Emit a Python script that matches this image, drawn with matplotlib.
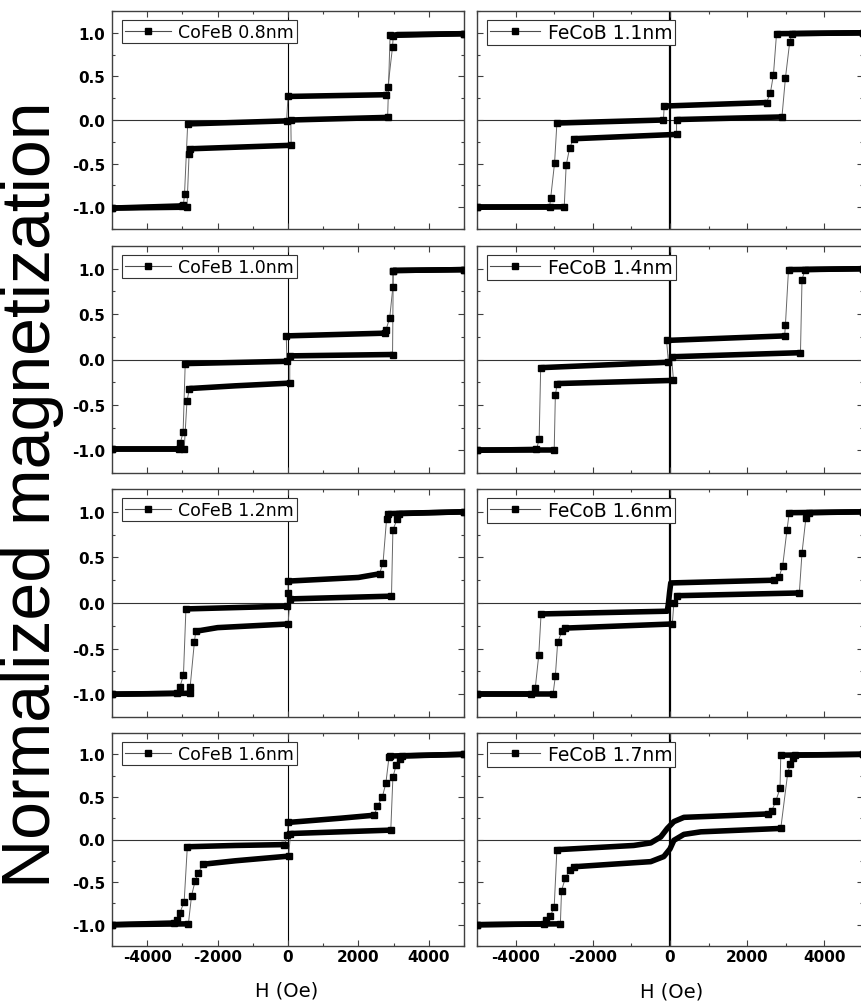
import matplotlib
matplotlib.use("Agg")
import matplotlib.pyplot as plt
from matplotlib.lines import Line2D
from matplotlib.ticker import MultipleLocator

plt.rcParams["font.family"] = ["DejaVu Sans"]
plt.rcParams["axes.unicode_minus"] = False

# Each branch: alternating [plateau, transition, plateau, ...] lists of (H in Oe, normalized M)
# plateaus are drawn as the dense band, transitions as single square markers

# CoFeB 0.8 nm
cofeb08_down = [
    [(5000, 0.99), (3100, 0.98), (2990, 0.96)],
    [(2970, 0.84), (2840, 0.38)],
    [(2790, 0.29), (0, 0.27)],
    [],
    [(-40, -0.01), (-2850, -0.045)],
    [(-2940, -0.85), (-2970, -0.97)],
    [(-3000, -0.985), (-5000, -1.01)],
]
cofeb08_up = [
    [(-5000, -1.01), (-2870, -1.0)],
    [(-2810, -0.39)],
    [(-2780, -0.33), (90, -0.29)],
    [],
    [(80, 0.0), (2830, 0.03)],
    [],
    [(2900, 0.97), (5000, 0.99)],
]

# CoFeB 1.0 nm
cofeb10_down = [
    [(5000, 0.99), (2980, 0.98)],
    [(2980, 0.80), (2890, 0.46), (2780, 0.32)],
    [(2760, 0.29), (-50, 0.26)],
    [],
    [(-30, -0.02), (-2920, -0.045)],
    [(-2980, -0.80), (-3060, -0.92)],
    [(-3100, -0.99), (-5000, -0.99)],
]
cofeb10_up = [
    [(-5000, -0.99), (-2950, -0.99)],
    [(-2870, -0.46)],
    [(-2800, -0.32), (-1500, -0.29), (50, -0.26)],
    [],
    [(50, 0.04), (2970, 0.055)],
    [],
    [(2990, 0.98), (5000, 0.99)],
]

# CoFeB 1.2 nm
cofeb12_down = [
    [(5000, 1.0), (2840, 0.98)],
    [(2800, 0.92), (2700, 0.44)],
    [(2600, 0.32), (2000, 0.28), (0, 0.24)],
    [(0, 0.11)],
    [(-20, -0.035), (-2900, -0.065)],
    [(-2970, -0.79), (-3070, -0.92)],
    [(-3150, -0.99), (-5000, -1.0)],
]
cofeb12_up = [
    [(-5000, -1.0), (-2780, -0.99)],
    [(-2780, -0.92), (-2660, -0.43)],
    [(-2620, -0.31), (-2000, -0.27), (0, -0.23)],
    [],
    [(60, 0.045), (2940, 0.075)],
    [(2980, 0.80), (3100, 0.92)],
    [(3150, 0.98), (5000, 1.0)],
]

# CoFeB 1.6 nm
cofeb16_down = [
    [(5000, 1.0), (2900, 0.98)],
    [(2870, 0.97), (2780, 0.66), (2680, 0.50), (2540, 0.39)],
    [(2450, 0.285), (1500, 0.25), (0, 0.20)],
    [(-20, 0.05)],
    [(-100, -0.06), (-1500, -0.07), (-2860, -0.085)],
    [(-2950, -0.73), (-3070, -0.86), (-3160, -0.95)],
    [(-3250, -0.98), (-5000, -1.0)],
]
cofeb16_up = [
    [(-5000, -1.0), (-2830, -0.99)],
    [(-2740, -0.66), (-2640, -0.49), (-2550, -0.39)],
    [(-2410, -0.29), (-1500, -0.25), (20, -0.195)],
    [],
    [(70, 0.07), (2920, 0.11)],
    [(2980, 0.73), (3070, 0.87), (3170, 0.95)],
    [(3250, 0.98), (5000, 1.0)],
]

# FeCoB 1.1 nm
fecob11_down = [
    [(5000, 1.0), (2760, 0.99)],
    [(2680, 0.52), (2600, 0.31)],
    [(2500, 0.20), (-150, 0.16)],
    [],
    [(-170, 0.0), (-2930, -0.035)],
    [(-2990, -0.49), (-3090, -0.89)],
    [(-3120, -1.0), (-5000, -1.0)],
]
fecob11_up = [
    [(-5000, -1.0), (-2740, -0.995)],
    [(-2690, -0.52), (-2600, -0.32)],
    [(-2500, -0.215), (170, -0.165)],
    [],
    [(170, 0.005), (2900, 0.035)],
    [(2990, 0.48), (3100, 0.89)],
    [(3160, 0.99), (5000, 1.0)],
]

# FeCoB 1.4 nm
fecob14_down = [
    [(5000, 1.0), (3070, 0.99)],
    [(2990, 0.38)],
    [(2970, 0.26), (-90, 0.21)],
    [],
    [(-40, -0.03), (-3350, -0.09)],
    [(-3390, -0.88)],
    [(-3460, -0.99), (-5000, -1.0)],
]
fecob14_up = [
    [(-5000, -1.0), (-3000, -1.0)],
    [(-2970, -0.39)],
    [(-2920, -0.265), (90, -0.23)],
    [],
    [(40, 0.03), (3380, 0.075)],
    [(3420, 0.88)],
    [(3500, 0.99), (5000, 1.0)],
]

# FeCoB 1.6 nm
fecob16_down = [
    [(5000, 1.0), (3090, 0.99)],
    [(3030, 0.80), (2920, 0.41), (2830, 0.29)],
    [(2700, 0.25), (20, 0.22), (-10, 0.12), (-40, 0.0), (-70, -0.09), (-3340, -0.12)],
    [(-3400, -0.57), (-3490, -0.93)],
    [(-3600, -1.0), (-5000, -1.0)],
]
fecob16_up = [
    [(-5000, -1.0), (-3030, -1.0)],
    [(-2970, -0.80), (-2910, -0.43), (-2800, -0.31)],
    [(-2710, -0.275), (60, -0.23)],
    [(100, 0.0)],
    [(170, 0.08), (3350, 0.11)],
    [(3420, 0.55), (3520, 0.93)],
    [(3600, 0.99), (5000, 1.0)],
]

# FeCoB 1.7 nm
fecob17_down = [
    [(5000, 1.0), (2870, 0.99)],
    [(2850, 0.60), (2740, 0.45), (2630, 0.33)],
    [(2530, 0.30), (1500, 0.28), (360, 0.26), (100, 0.21), (-70, 0.13), (-240, 0.03),
     (-500, -0.04), (-940, -0.07), (-2930, -0.12)],
    [(-3000, -0.79), (-3100, -0.90), (-3200, -0.95)],
    [(-3260, -0.99), (-5000, -1.0)],
]
fecob17_up = [
    [(-5000, -1.0), (-2840, -0.99)],
    [(-2810, -0.60), (-2710, -0.45), (-2600, -0.36)],
    [(-2490, -0.32), (-1500, -0.29), (-500, -0.26), (-160, -0.20), (0, -0.11), (100, -0.01),
     (360, 0.06), (800, 0.09), (2870, 0.13)],
    [(3050, 0.78), (3120, 0.89), (3180, 0.96)],
    [(3250, 0.99), (5000, 1.0)],
]

left_labels = ["CoFeB 0.8nm", "CoFeB 1.0nm", "CoFeB 1.2nm", "CoFeB 1.6nm"]
right_labels = ["FeCoB 1.1nm", "FeCoB 1.4nm", "FeCoB 1.6nm", "FeCoB 1.7nm"]
left_loops = [(cofeb08_down, cofeb08_up), (cofeb10_down, cofeb10_up),
              (cofeb12_down, cofeb12_up), (cofeb16_down, cofeb16_up)]
right_loops = [(fecob11_down, fecob11_up), (fecob14_down, fecob14_up),
               (fecob16_down, fecob16_up), (fecob17_down, fecob17_up)]

W, HT = 861, 1003
fig = plt.figure(figsize=(W / 100, HT / 100), dpi=100)

rows = [(12, 230), (247, 474), (490, 718), (734, 947)]
cols = [(112, 464), (477, 863)]


def draw_branch(ax, branch):
    pts = [p for seg in branch for p in seg]
    ax.plot([p[0] for p in pts], [p[1] for p in pts], color="0.4", lw=0.7, zorder=2)
    for i, seg in enumerate(branch):
        if not seg:
            continue
        h = [p[0] for p in seg]
        m = [p[1] for p in seg]
        if i % 2 == 0:
            ax.plot(h, m, color="k", lw=4.0, solid_capstyle="butt",
                    solid_joinstyle="round", zorder=3)
            ax.plot([h[0], h[-1]], [m[0], m[-1]], "s", color="k", ms=3.8, zorder=3)
        else:
            ax.plot(h, m, "s", color="k", ms=3.8, zorder=3)


for c, (labels, loops) in enumerate([(left_labels, left_loops), (right_labels, right_loops)]):
    x0, x1 = cols[c]
    for r, (y0, y1) in enumerate(rows):
        ax = fig.add_axes([x0 / W, 1 - y1 / HT, (x1 - x0) / W, (y1 - y0) / HT])
        down, up = loops[r]
        draw_branch(ax, down)
        draw_branch(ax, up)
        ax.axhline(0, color="0.2", lw=0.8, zorder=1)
        ax.axvline(0, color="k", lw=0.8 if c == 0 else 1.6, zorder=1)

        ax.set_xlim(-5000, 5000)
        ax.set_ylim(-1.25, 1.25)
        ax.xaxis.set_major_locator(MultipleLocator(2000))
        ax.xaxis.set_minor_locator(MultipleLocator(1000))
        ax.yaxis.set_major_locator(MultipleLocator(0.5))
        ax.yaxis.set_minor_locator(MultipleLocator(0.25))
        ax.tick_params(which="both", direction="in", top=True, right=True,
                       color="0.25", width=0.8, labelsize=11, labelcolor="k")
        ax.tick_params(which="major", length=4)
        ax.tick_params(which="minor", length=2.5)
        ax.tick_params(axis="y", pad=5)
        ax.tick_params(axis="x", pad=2)
        ax.tick_params(labelleft=(c == 0), labelbottom=(r == 3))
        for s in ax.spines.values():
            s.set_color("0.25")
            s.set_linewidth(1.0)
        plt.setp(ax.get_xticklabels() + ax.get_yticklabels(), fontweight="bold")

        handle = Line2D([], [], color="0.3", lw=0.8, marker="s", ms=4,
                        mfc="k", mec="k")
        wpx = x1 - x0
        hpx = y1 - y0
        leg = ax.legend([handle], [labels[r]], loc="upper left",
                        bbox_to_anchor=(10 / wpx, 1 - 9 / hpx), borderaxespad=0,
                        fontsize=12.5 if c == 0 else 13.5, handlelength=2.7,
                        handletextpad=0.4, borderpad=0.15, numpoints=1,
                        fancybox=False, edgecolor="0.2", framealpha=1)
        leg.get_frame().set_linewidth(0.8)

fig.text(287 / W, 1 - 991 / HT, "H (Oe)", fontsize=14, ha="center", va="center")
fig.text(672 / W, 1 - 992 / HT, "H (Oe)", fontsize=14, ha="center", va="center")
fig.text(32 / W, 1 - 495 / HT, "Normalized magnetization", rotation=90,
         fontsize=49, family=["Liberation Sans", "DejaVu Sans"],
         ha="center", va="center")

fig.savefig("out.png", dpi=100)
